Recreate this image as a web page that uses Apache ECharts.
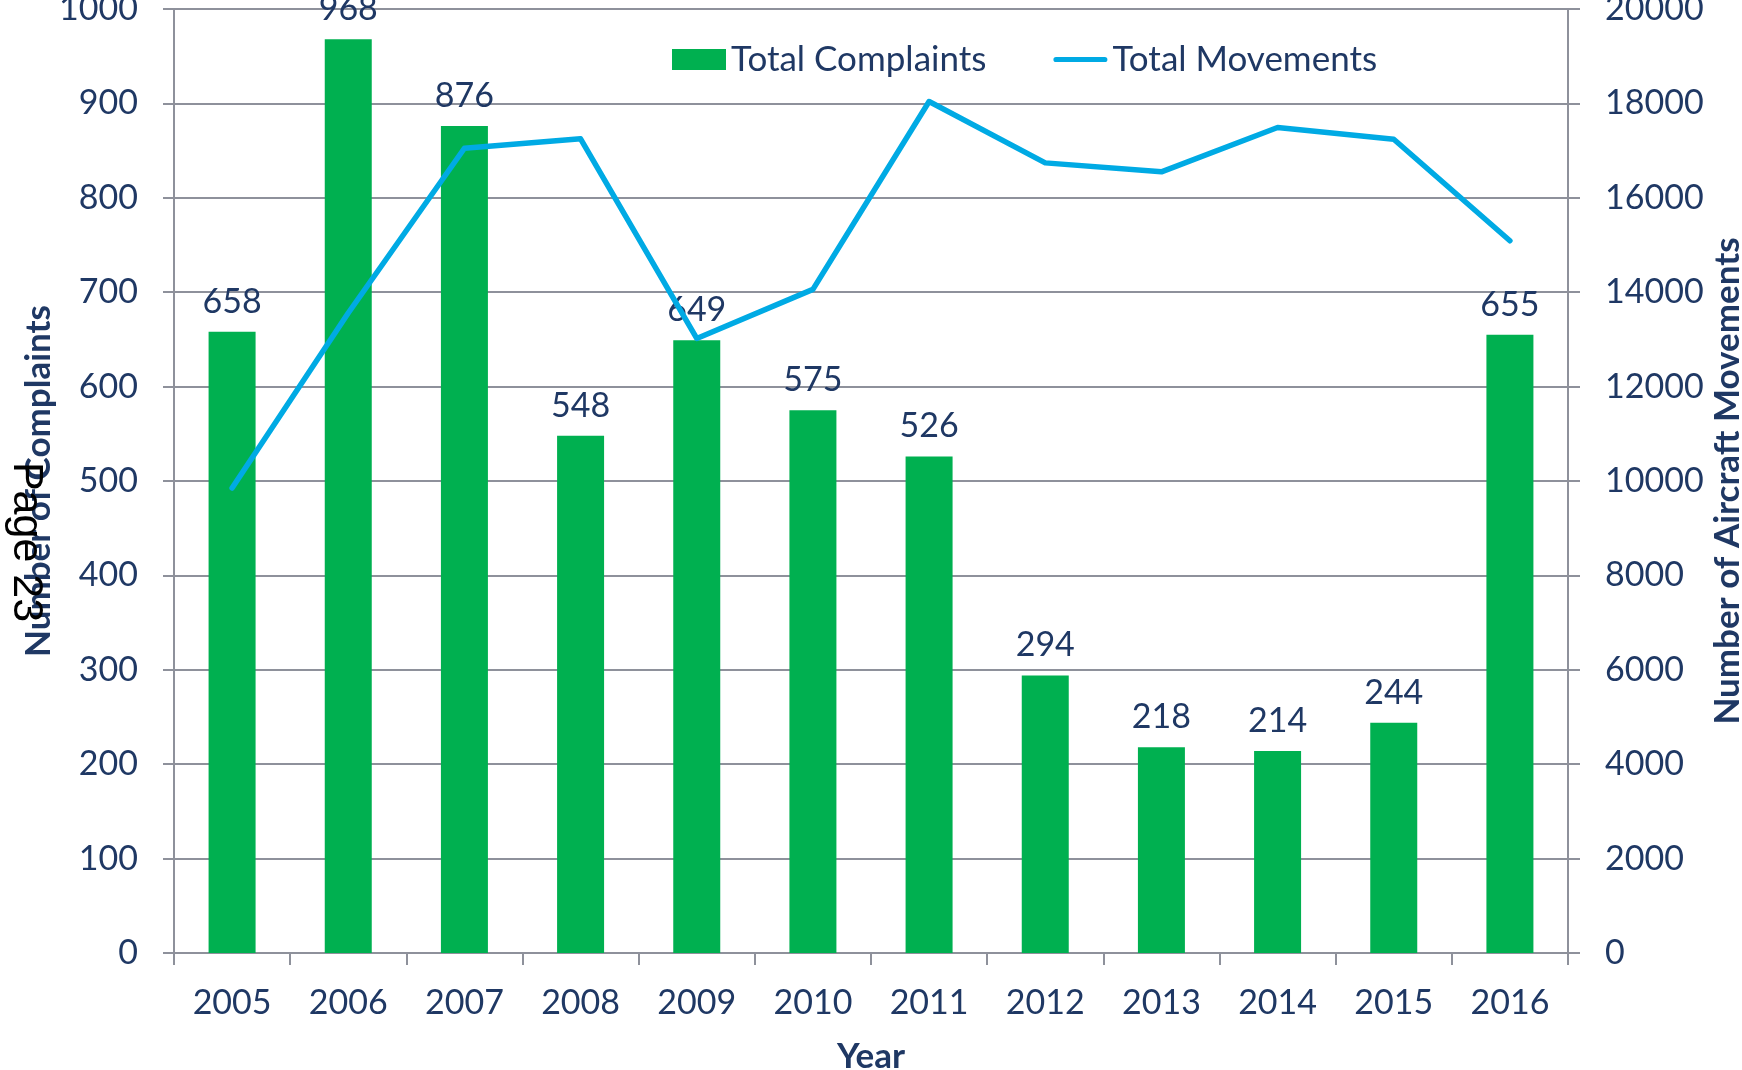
<!DOCTYPE html>
<html>
<head>
<meta charset="utf-8">
<script src="https://cdn.jsdelivr.net/npm/echarts@6/dist/echarts.min.js"></script>
<style>
html,body{margin:0;padding:0;background:#fff;overflow:hidden;}
#c{width:1742px;height:1070px;}
</style>
</head>
<body>
<div id="c"></div>
<script>
const years = ['2005','2006','2007','2008','2009','2010','2011','2012','2013','2014','2015','2016'];
const complaints = [658, 968, 876, 548, 649, 575, 526, 294, 218, 214, 244, 655];
const movements = [9850, 13560, 17050, 17250, 13020, 14060, 18040, 16740, 16550, 17490, 17240, 15090];

const NAVY = '#1F3864';
const GRID = '#8E919B';
const FONT = 'Lato';

const chart = echarts.init(document.getElementById('c'));
chart.setOption({
  animation: false,
  backgroundColor: '#ffffff',
  textStyle: { fontFamily: FONT },
  grid: { left: 174, right: 174, top: 9, bottom: 117, containLabel: false, outerBoundsMode: 'none' },
  legend: {
    left: 667, top: 37,
    itemWidth: 54, itemHeight: 21, itemGap: 67,
    textStyle: { fontSize: 35, color: NAVY, fontFamily: FONT },
    data: [
      { name: 'Total Complaints', icon: 'rect' },
      { name: 'Total Movements', icon: 'path://M5.5,0H108.5A5.5,5.5 0 0 1 108.5,11H5.5A5.5,5.5 0 0 1 5.5,0Z' }
    ]
  },
  xAxis: {
    type: 'category',
    data: years,
    name: 'Year',
    nameLocation: 'middle',
    nameGap: 86,
    nameMoveOverlap: false,
    nameTextStyle: { fontSize: 35, fontWeight: 'bold', color: NAVY, fontFamily: FONT },
    axisLine: { lineStyle: { color: GRID, width: 2 } },
    axisTick: { show: true, length: 12, lineStyle: { color: GRID, width: 2 } },
    axisLabel: { fontSize: 34, color: NAVY, margin: 33, fontFamily: FONT }
  },
  yAxis: [
    {
      type: 'value', min: 0, max: 1000, interval: 100,
      name: 'Number of Complaints',
      nameLocation: 'middle', nameRotate: 90, nameGap: 118,
      nameMoveOverlap: false,
      nameTextStyle: { fontSize: 35, fontWeight: 'bold', color: NAVY, fontFamily: FONT },
      axisLine: { show: true, lineStyle: { color: GRID, width: 2 } },
      axisTick: { show: true, length: 11, lineStyle: { color: GRID, width: 2 } },
      splitLine: { show: true, lineStyle: { color: GRID, width: 2 } },
      axisLabel: { fontSize: 34, color: NAVY, margin: 36, fontFamily: FONT, formatter: v => String(v) }
    },
    {
      type: 'value', min: 0, max: 20000, interval: 2000,
      name: 'Number of Aircraft Movements',
      nameLocation: 'middle', nameRotate: 90, nameGap: 142,
      nameMoveOverlap: false,
      nameTextStyle: { fontSize: 35, fontWeight: 'bold', color: NAVY, fontFamily: FONT },
      axisLine: { show: true, lineStyle: { color: GRID, width: 2 } },
      axisTick: { show: true, length: 12, lineStyle: { color: GRID, width: 2 } },
      splitLine: { show: false },
      axisLabel: { fontSize: 34, color: NAVY, margin: 37, fontFamily: FONT, formatter: v => String(v) }
    }
  ],
  series: [
    {
      name: 'Total Complaints',
      type: 'bar',
      data: complaints,
      barWidth: 47,
      itemStyle: { color: '#00B050' },
      label: { show: true, position: 'top', distance: 13, fontSize: 34, color: NAVY, fontFamily: FONT }
    },
    {
      name: 'Total Movements',
      type: 'line',
      yAxisIndex: 1,
      data: movements,
      symbol: 'none',
      lineStyle: { color: '#00AAE4', width: 5.5, cap: 'round', join: 'round' },
      itemStyle: { color: '#00AAE4' },
      z: 5
    }
  ],
  graphic: [
    {
      type: 'text',
      x: 26, y: 542,
      rotation: -Math.PI / 2,
      z: 100,
      style: {
        text: 'Page 23',
        fontFamily: 'Liberation Sans',
        fontSize: 43,
        fill: '#000000',
        textAlign: 'center',
        textVerticalAlign: 'middle'
      }
    }
  ]
});
</script>
</body>
</html>
